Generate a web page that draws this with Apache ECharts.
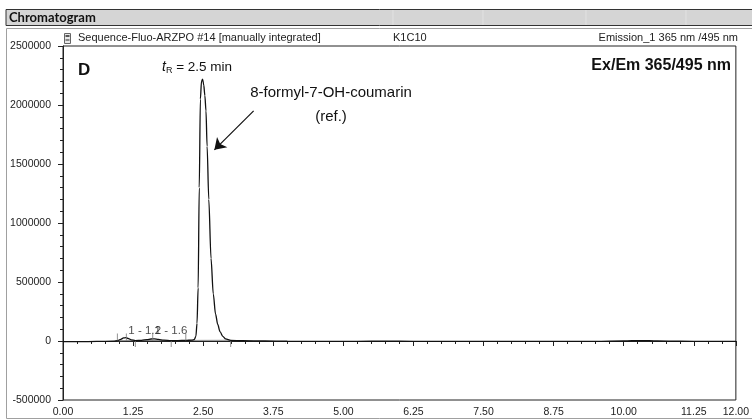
<!DOCTYPE html>
<html>
<head>
<meta charset="utf-8">
<title>Chromatogram</title>
<script src="https://cdn.jsdelivr.net/npm/echarts@6/dist/echarts.min.js"></script>
<style>
html, body { margin: 0; padding: 0; background: #fff; }
#chart { width: 752px; height: 420px; }
</style>
</head>
<body>
<div id="chart"></div>
<script>
// retention time (min) and detector signal
var timeMin = [0, 0.3, 0.6, 0.9, 0.97, 1.03, 1.08, 1.12, 1.17, 1.22,
  1.29, 1.4, 1.5, 1.57, 1.63, 1.7, 1.8, 1.93, 2.05, 2.19,
  2.3, 2.34, 2.37, 2.39, 2.41, 2.43, 2.45, 2.47, 2.49, 2.51,
  2.53, 2.55, 2.57, 2.6, 2.64, 2.68, 2.72, 2.76, 2.8, 2.85,
  2.9, 2.99, 3.2, 3.6, 4.0, 4.5, 5.0, 5.5, 6.0, 6.5,
  7.0, 7.5, 8.0, 8.5, 9.0, 9.5, 10.0, 10.3, 10.6, 11.0,
  11.5, 12.0]
var signal = [-6000, -5000, -4000, -1000, 3000, 14000, 26000, 28000, 20000, 9000,
  4000, 6000, 12000, 17000, 18000, 13000, 7000, 4000, 4000, 5000,
  8000, 12000, 40000, 150000, 450000, 1300000, 2050000, 2200000, 2220000, 2170000,
  2080000, 1950000, 1650000, 1200000, 700000, 400000, 230000, 140000, 80000, 40000,
  18000, 6000, 2000, 0, -2000, -3000, -3000, -2000, -2000, -3000,
  -4000, -3000, -3000, -4000, -4000, -3000, 0, 4000, 1000, -2000,
  -4000, -4000]

// integration baselines (start/end time and level)
var intStart = [0.97, 1.29, 2.19]
var intEnd = [1.29, 1.93, 2.99]
var intStartY = [3000, 4000, 5000]
var intEndY = [4000, 4000, 6000]

// integration marks above / below the trace
var tickUp = [0.97, 1.13, 1.6, 2.19]
var tickDown = [1.29, 1.93, 2.99]

// peak labels
var peakLabelX = [1.13, 1.6]
var peakLabelText = ['1 - 1.1', '2 - 1.6']

// arrow to the main peak
var arrowFrom = [3.40, 1950000]
var arrowTo = [2.70, 1620000]

var xTicks = { min: 0, max: 12, major: 1.25, minor: 0.25 }
var yTicks = { min: -500000, max: 2500000, major: 500000, minor: 100000 }

var FONT = '"Liberation Sans", Arial, sans-serif'

var chart = echarts.init(document.getElementById('chart'))

var traceData = timeMin.map(function(t, i) { return [t, signal[i]] })

var intSeries = intStart.map(function(s, i) {
  return {
    type: 'line',
    silent: true,
    showSymbol: false,
    lineStyle: { color: '#8a8a8a', width: 1 },
    data: [[s, intStartY[i]], [intEnd[i], intEndY[i]]],
    z: 3
  }
})

chart.setOption({
  animation: false,
  grid: {
    left: 63,
    right: 11,
    top: 46,
    bottom: 20,
    show: true,
    borderColor: '#222',
    borderWidth: 1,
    backgroundColor: 'transparent'
  },
  xAxis: [{
    type: 'value',
    position: 'bottom',
    offset: 3,
    min: xTicks.min,
    max: xTicks.max,
    interval: xTicks.major,
    splitLine: { show: false },
    axisLine: { show: true, lineStyle: { color: '#222', width: 1 } },
    axisTick: { show: true, length: 5, lineStyle: { color: '#222' } },
    axisLabel: {
      margin: 4,
      fontSize: 10.5,
      fontFamily: FONT,
      color: '#222',
      formatter: function(v) { return v.toFixed(2) }
    }
  }, {
    type: 'value',
    position: 'bottom',
    offset: 3,
    min: xTicks.min,
    max: xTicks.max,
    interval: xTicks.minor,
    splitLine: { show: false },
    axisLine: { show: false },
    axisTick: { show: true, length: 3, lineStyle: { color: '#222' } },
    axisLabel: { show: false }
  }],
  yAxis: [{
    type: 'value',
    position: 'left',
    offset: 4,
    min: yTicks.min,
    max: yTicks.max,
    interval: yTicks.major,
    splitLine: { show: false },
    axisLine: { show: true, lineStyle: { color: '#222', width: 1 } },
    axisTick: { show: true, length: 5, lineStyle: { color: '#222' } },
    axisLabel: {
      margin: 8,
      fontSize: 10.5,
      fontFamily: FONT,
      color: '#222',
      formatter: function(v) { return String(v) }
    }
  }, {
    type: 'value',
    position: 'left',
    offset: 4,
    min: yTicks.min,
    max: yTicks.max,
    interval: yTicks.minor,
    splitLine: { show: false },
    axisLine: { show: false },
    axisTick: { show: true, length: 3, lineStyle: { color: '#222' } },
    axisLabel: { show: false }
  }],
  series: intSeries.concat([{
    name: 'trace',
    type: 'line',
    showSymbol: false,
    smooth: 0.3,
    smoothMonotone: 'x',
    lineStyle: { color: '#111', width: 1.3 },
    data: traceData,
    z: 4,
    markLine: {
      silent: true,
      symbol: ['none', 'arrow'],
      symbolSize: 11,
      label: { show: false },
      lineStyle: { color: '#111', width: 1.2, type: 'solid' },
      data: [[{ coord: arrowFrom }, { coord: arrowTo }]]
    }
  }, {
    type: 'scatter',
    silent: true,
    symbol: 'rect',
    symbolSize: [1, 7],
    symbolOffset: [0, -4],
    itemStyle: { color: '#777' },
    data: tickUp.map(function(t) { return [t, 0] }),
    z: 5
  }, {
    type: 'scatter',
    silent: true,
    symbol: 'rect',
    symbolSize: [1, 6],
    symbolOffset: [0, 3],
    itemStyle: { color: '#777' },
    data: tickDown.map(function(t) { return [t, 0] }),
    z: 5
  }, {
    type: 'scatter',
    silent: true,
    symbolSize: 0,
    data: peakLabelX.map(function(t, i) { return { value: [t, 0], name: peakLabelText[i] } }),
    label: {
      show: true,
      formatter: '{b}',
      position: [0, 0],
      align: 'left',
      verticalAlign: 'bottom',
      offset: [2, -4],
      fontSize: 11.5,
      fontFamily: FONT,
      color: '#222'
    },
    z: 6
  }]),
  graphic: [
    // header bar
    { type: 'rect', shape: { x: 6, y: 9.5, width: 760, height: 16 },
      style: { fill: '#d5d5d5', stroke: '#333', lineWidth: 1 } },
    { type: 'line', shape: { x1: 393, y1: 10, x2: 393, y2: 25 }, style: { stroke: '#e2e2e2' } },
    { type: 'line', shape: { x1: 483, y1: 10, x2: 483, y2: 25 }, style: { stroke: '#e2e2e2' } },
    { type: 'line', shape: { x1: 586, y1: 10, x2: 586, y2: 25 }, style: { stroke: '#e2e2e2' } },
    { type: 'line', shape: { x1: 686, y1: 10, x2: 686, y2: 25 }, style: { stroke: '#e2e2e2' } },
    { type: 'text', x: 9, y: 18, style: { text: 'Chromatogram', fill: '#111',
      font: 'bold 13px Lato, "Liberation Sans", sans-serif', verticalAlign: 'middle' } },
    // outer box
    { type: 'rect', shape: { x: 6.5, y: 28.5, width: 760, height: 390 },
      style: { fill: 'none', stroke: '#a0a0a0', lineWidth: 1 } },
    // document icon
    { type: 'rect', shape: { x: 64.5, y: 33.5, width: 6, height: 10 },
      style: { fill: '#e8e8e8', stroke: '#666', lineWidth: 1 } },
    { type: 'rect', shape: { x: 65.5, y: 35, width: 4, height: 2 }, style: { fill: '#555' } },
    { type: 'rect', shape: { x: 65.5, y: 39, width: 4, height: 2 }, style: { fill: '#888' } },
    // subtitle line
    { type: 'text', x: 78, y: 38, style: { text: 'Sequence-Fluo-ARZPO #14 [manually integrated]',
      fill: '#222', font: '11px ' + FONT, verticalAlign: 'middle' } },
    { type: 'text', x: 393, y: 38, style: { text: 'K1C10',
      fill: '#222', font: '11px ' + FONT, verticalAlign: 'middle' } },
    { type: 'text', x: 738, y: 38, style: { text: 'Emission_1 365 nm /495 nm',
      fill: '#222', font: '11px ' + FONT, verticalAlign: 'middle', align: 'right' } },
    // panel letter and annotations
    { type: 'text', x: 78, y: 70, z: 10, style: { text: 'D', fill: '#111',
      font: 'bold 17px ' + FONT, verticalAlign: 'middle' } },
    { type: 'text', x: 162, y: 67, z: 10, style: {
      text: '{t|t}{s|R}{n| = 2.5 min}',
      verticalAlign: 'middle',
      rich: {
        t: { fontSize: 14, fontStyle: 'italic', fontFamily: FONT, fill: '#111' },
        s: { fontSize: 9, fontFamily: FONT, fill: '#111', padding: [7, 0, 0, 0] },
        n: { fontSize: 13.5, fontFamily: FONT, fill: '#111' }
      }
    } },
    { type: 'text', x: 331, y: 93, z: 10, style: { text: '8-formyl-7-OH-coumarin',
      fill: '#111', font: '15px ' + FONT, align: 'center', verticalAlign: 'middle' } },
    { type: 'text', x: 331, y: 117, z: 10, style: { text: '(ref.)',
      fill: '#111', font: '15px ' + FONT, align: 'center', verticalAlign: 'middle' } },
    { type: 'text', x: 731, y: 66, z: 10, style: { text: 'Ex/Em 365/495 nm',
      fill: '#111', font: 'bold 16px ' + FONT, align: 'right', verticalAlign: 'middle' } }
  ]
})
</script>
</body>
</html>
